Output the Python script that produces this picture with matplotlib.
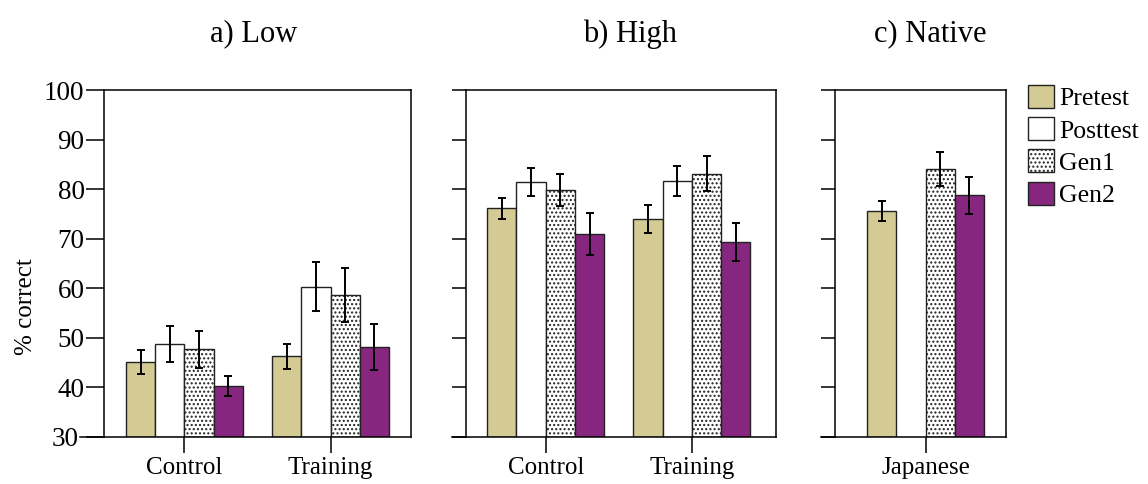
import numpy as np
import matplotlib.pyplot as plt
import matplotlib.transforms as mtransforms
from matplotlib.patches import Patch

# Colores
COLOR_PRE = '#d3ca94'
COLOR_POST = '#ffffff'
COLOR_GEN1 = '#ffffff'
COLOR_GEN2 = '#87267f'

series = ['Pretest', 'Posttest', 'Gen1', 'Gen2']

# a) Low
low_groups = ['Control', 'Training']
low_means = [[45.1, 46.3], [48.8, 60.3], [47.7, 58.7], [40.3, 48.2]]
low_errs = [[2.35, 2.5], [3.6, 4.95], [3.7, 5.45], [2.05, 4.65]]

# b) High
high_groups = ['Control', 'Training']
high_means = [[76.1, 74.0], [81.5, 81.6], [79.8, 83.1], [71.0, 69.3]]
high_errs = [[2.1, 2.9], [2.8, 3.05], [3.3, 3.5], [4.25, 3.85]]

# c) Native (no posttest)
nat_groups = ['Japanese']
nat_means = [[75.6], [np.nan], [84.1], [78.8]]
nat_errs = [[1.95], [np.nan], [3.45], [3.75]]

plt.rcParams['font.family'] = ['Liberation Serif', 'DejaVu Serif']
plt.rcParams['hatch.linewidth'] = 1.0
plt.rcParams['hatch.color'] = '#555555'

ESTILOS = [
    dict(color=COLOR_PRE, hatch=None),
    dict(color=COLOR_POST, hatch=None),
    dict(color=COLOR_GEN1, hatch='....'),
    dict(color=COLOR_GEN2, hatch=None),
]
W = 0.2


def dibujar_panel(ax, groups, means, errs, xlim, tick_len, ext_px):
    x = np.arange(len(groups))
    for i, (m, e) in enumerate(zip(means, errs)):
        off = (i - 1.5) * W
        est = ESTILOS[i]
        m = np.array(m, dtype=float)
        e = np.array(e, dtype=float)
        ok = ~np.isnan(m)
        ax.bar(x[ok] + off, m[ok] - 30, bottom=30, width=W, color=est['color'],
               hatch=est['hatch'], edgecolor='#222222', linewidth=1.0, zorder=2)
        ax.errorbar(x[ok] + off, m[ok], yerr=e[ok], fmt='none', ecolor='black',
                    elinewidth=1.4, capsize=3.2, capthick=1.4, zorder=3)
    ax.set_xlim(*xlim)
    ax.set_ylim(30, 100)
    ax.set_yticks(np.arange(30, 101, 10))
    ax.set_xticks(x)
    ax.set_xticklabels(groups, fontsize=18)
    ax.tick_params(axis='x', direction='out', length=11.5, width=1.1, pad=3)
    ax.tick_params(axis='y', direction='out', length=tick_len, width=1.1, pad=1)
    for s in ax.spines.values():
        s.set_linewidth(1.1)
    # prolongar la linea base hacia la izquierda
    frac = ext_px / (ax.get_position().width * ax.figure.get_figwidth() * ax.figure.dpi)
    ax.plot([-frac, 0], [0, 0], transform=ax.transAxes, color='black',
            linewidth=1.1, clip_on=False)


fig = plt.figure(figsize=(11.48, 4.84), dpi=100)
H0, HH = 47 / 484, 347 / 484
ax1 = fig.add_axes([104 / 1148, H0, 307 / 1148, HH])
ax2 = fig.add_axes([466 / 1148, H0, 310 / 1148, HH])
ax3 = fig.add_axes([835 / 1148, H0, 171 / 1148, HH])

dibujar_panel(ax1, low_groups, low_means, low_errs, (-0.55, 1.55), 13, 24)
dibujar_panel(ax2, high_groups, high_means, high_errs, (-0.545, 1.575), 10, 14)
dibujar_panel(ax3, nat_groups, nat_means, nat_errs, (-0.62, 0.55), 10, 14)

ax1.set_yticklabels([str(v) for v in range(30, 101, 10)], fontsize=19.5)
ax2.set_yticklabels([])
ax3.set_yticklabels([])

# la etiqueta "30" queda a la izquierda de la linea base prolongada
lab30 = ax1.get_yticklabels()[0]
lab30.set_transform(lab30.get_transform() +
                    mtransforms.ScaledTranslation(-6 / 100, 0, fig.dpi_scale_trans))

fig.text(26 / 1148, 1 - 307 / 484, '% correct', rotation=90, ha='center',
         va='center', fontsize=18)

fig.text(254 / 1148, 1 - 34 / 484, 'a) Low', ha='center', va='center', fontsize=22)
fig.text(630 / 1148, 1 - 34 / 484, 'b) High', ha='center', va='center', fontsize=22)
fig.text(930 / 1148, 1 - 34 / 484, 'c) Native', ha='center', va='center', fontsize=22)

handles = [Patch(facecolor=e['color'], hatch=e['hatch'], edgecolor='#222222',
                 linewidth=1.0) for e in ESTILOS]
fig.legend(handles, series, loc='upper left', bbox_to_anchor=(1028 / 1148, 1 - 85 / 484),
           frameon=False, fontsize=18.5, handlelength=1.0, handleheight=1.0,
           handletextpad=0.2, labelspacing=0.27, borderpad=0, borderaxespad=0)

fig.savefig('out.png', dpi=100)
plt.close()
